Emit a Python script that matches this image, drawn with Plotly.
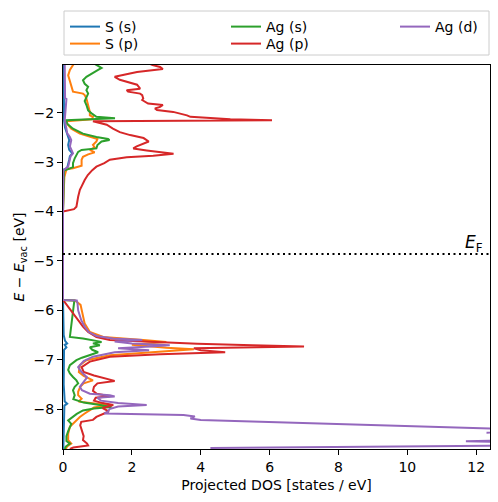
import plotly.graph_objects as go

# ---------------- data ----------------
fermi_energy = -4.86  # eV relative to vacuum

s_s_energy = [-1.00, -2.00, -2.15, -2.30, -2.45, -2.55, -2.65, -2.75, -2.82, -2.88, -2.95, -3.05, -3.12, -3.15, -4.00,
              -5.79, -6.50, -6.62, -6.67, -6.70, -6.75, -6.80, -7.50, -7.85, -7.89, -7.93, -8.81]
s_s_dos = [0.02, 0.02, 0.03, 0.06, 0.12, 0.18, 0.15, 0.18, 0.27, 0.20, 0.18, 0.15, 0.12, 0.02, 0.00,
           0.00, 0.02, 0.06, 0.12, 0.05, 0.10, 0.03, 0.02, 0.05, 0.12, 0.04, 0.01]

s_p_energy = [-1.00, -1.03, -1.07, -1.13, -1.24, -1.37, -1.47, -1.57, -1.61, -1.64, -1.71, -1.84, -1.98, -2.05,
              -2.08, -2.13, -2.17, -2.22, -2.32, -2.42, -2.49, -2.53, -2.58, -2.65, -2.70, -2.75, -2.80, -2.84,
              -2.89, -2.95, -3.07, -3.12, -3.14, -3.30, -3.60, -4.00,
              -5.79, -5.80, -5.89, -6.05, -6.27, -6.44, -6.54, -6.60, -6.64, -6.70, -6.76, -6.79, -6.83, -6.91,
              -7.01, -7.11, -7.25, -7.33, -7.42, -7.48, -7.55, -7.65, -7.72, -7.79, -7.85, -7.92, -7.97, -8.02,
              -8.09, -8.16, -8.26, -8.36, -8.50, -8.63, -8.70, -8.76, -8.81]
s_p_dos = [0.32, 0.29, 0.24, 0.20, 0.15, 0.20, 0.24, 0.29, 0.58, 0.63, 0.68, 0.73, 0.78, 0.78,
           0.87, 0.84, 0.10, 0.12, 0.24, 0.49, 0.78, 1.00, 0.97, 0.87, 0.92, 0.78, 0.92, 0.73,
           0.58, 0.54, 0.54, 0.29, 0.10, 0.04, 0.02, 0.00,
           0.00, 0.35, 0.51, 0.56, 0.63, 0.78, 1.17, 2.33, 3.00, 2.00, 3.00, 3.80, 3.00, 1.36,
           0.68, 0.49, 0.46, 0.60, 0.87, 0.60, 0.50, 0.44, 0.44, 0.54, 0.45, 1.35, 0.90, 0.78,
           0.63, 0.49, 0.34, 0.20, 0.15, 0.15, 0.24, 0.12, 0.08]

ag_s_energy = [-1.00, -1.03, -1.09, -1.13, -1.20, -1.27, -1.34, -1.41, -1.47, -1.54, -1.61, -1.68, -1.76, -1.84,
               -1.95, -2.01, -2.08, -2.11, -2.15, -2.22, -2.32, -2.42, -2.49, -2.53, -2.55, -2.58, -2.65, -2.72,
               -2.75, -2.79, -2.85, -2.92, -3.02, -3.10, -3.14, -3.17, -4.00,
               -5.79, -5.80, -6.54, -6.57, -6.62, -6.64, -6.67, -6.71, -6.75, -6.80, -6.85, -6.90, -6.96, -7.01,
               -7.11, -7.21, -7.28, -7.35, -7.42, -7.48, -7.55, -7.62, -7.72, -7.80, -7.87, -7.92, -7.96, -7.99,
               -8.03, -8.10, -8.18, -8.23, -8.30, -8.36, -8.45, -8.55, -8.65, -8.70, -8.76, -8.81]
ag_s_dos = [0.90, 0.97, 1.12, 1.02, 0.83, 0.68, 0.58, 0.63, 0.73, 0.68, 0.73, 0.68, 0.63, 0.68,
            0.73, 0.83, 0.97, 1.51, 0.10, 0.12, 0.29, 0.58, 0.97, 1.31, 1.35, 1.12, 1.00, 0.97,
            0.54, 0.44, 0.39, 0.34, 0.29, 0.29, 0.15, 0.03, 0.00,
            0.00, 0.33, 0.20, 0.58, 0.90, 1.12, 0.87, 1.07, 0.78, 0.85, 1.02, 0.80, 0.55, 0.39,
            0.20, 0.15, 0.20, 0.29, 0.39, 0.44, 0.34, 0.29, 0.34, 0.30, 0.60, 1.07, 1.41, 0.90,
            0.58, 0.40, 0.24, 0.15, 0.24, 0.20, 0.15, 0.10, 0.10, 0.20, 0.08, 0.05]

ag_p_energy = [-1.00, -1.03, -1.07, -1.11, -1.17, -1.27, -1.33, -1.43, -1.51, -1.54, -1.57, -1.61, -1.64, -1.71,
               -1.74, -1.81, -1.84, -1.88, -1.91, -1.94, -1.98, -2.01, -2.05, -2.08, -2.13, -2.15, -2.17, -2.24,
               -2.32, -2.39, -2.45, -2.51, -2.58, -2.68, -2.72, -2.76, -2.80, -2.83, -2.87, -2.90, -2.95, -3.02,
               -3.09, -3.16, -3.26, -3.36, -3.49, -3.56, -3.70, -3.76, -3.90, -3.95, -4.00,
               -5.79, -6.33, -6.44, -6.54, -6.60, -6.65, -6.68, -6.71, -6.735, -6.77, -6.81, -6.85, -6.89, -6.94,
               -7.04, -7.15, -7.25, -7.32, -7.38, -7.43, -7.48, -7.55, -7.63, -7.69, -7.74, -7.77, -7.83, -7.88,
               -7.92, -7.98, -8.05, -8.09, -8.16, -8.22, -8.26, -8.33, -8.43, -8.55, -8.63, -8.70, -8.74, -8.78,
               -8.81]
ag_p_dos = [2.50, 2.60, 2.82, 2.90, 2.15, 1.50, 1.65, 2.15, 2.24, 1.85, 1.89, 2.24, 2.30, 2.33,
            2.30, 2.47, 2.90, 2.82, 2.67, 2.73, 3.20, 3.40, 3.60, 3.70, 4.86, 6.07, 0.87, 1.27,
            1.45, 1.65, 1.95, 2.34, 2.49, 2.14, 2.04, 2.43, 2.82, 3.21, 2.62, 1.85, 1.36, 1.20,
            0.97, 0.85, 0.72, 0.63, 0.54, 0.49, 0.44, 0.43, 0.39, 0.32, 0.00,
            0.00, 0.58, 0.73, 0.97, 1.36, 2.82, 3.90, 5.50, 7.00, 3.80, 4.00, 4.71, 2.82, 1.36,
            0.78, 0.54, 0.60, 0.90, 1.20, 1.50, 1.00, 0.90, 0.87, 0.98, 1.36, 0.95, 0.90, 1.15,
            1.46, 1.15, 1.33, 1.20, 0.97, 0.87, 0.53, 0.50, 0.55, 0.60, 0.58, 0.70, 0.73, 0.30,
            0.20]

ag_d_energy = [-1.00, -1.50, -1.70, -1.72, -2.00, -2.15, -2.32, -2.41, -2.49, -2.55, -2.68, -2.75, -2.82, -2.88,
               -2.95, -3.09, -3.14, -3.17, -4.00,
               -5.79, -5.80, -5.85, -6.00, -6.20, -6.33, -6.44, -6.52, -6.57, -6.60, -6.63, -6.67, -6.71, -6.74,
               -6.77, -6.81, -6.85, -6.94, -7.03, -7.15, -7.21, -7.28, -7.36, -7.45, -7.55, -7.62, -7.69, -7.72,
               -7.745, -7.77, -7.83, -7.88, -7.92, -7.95, -8.00, -8.06, -8.09, -8.12, -8.15, -8.19, -8.22, -8.43,
               -8.48, -8.52, -8.63, -8.655, -8.67, -8.725, -8.79]
ag_d_dos = [0.05, 0.05, 0.06, 0.10, 0.08, 0.05, 0.10, 0.12, 0.20, 0.24, 0.20, 0.24, 0.29, 0.22,
            0.20, 0.15, 0.05, 0.01, 0.00,
            0.00, 0.40, 0.42, 0.44, 0.53, 0.63, 0.75, 0.97, 1.45, 2.30, 1.50, 2.00, 3.10, 2.40,
            1.60, 2.50, 1.50, 0.87, 0.60, 0.44, 0.49, 0.58, 0.70, 0.60, 0.49, 0.55, 0.78, 1.36,
            1.50, 1.00, 1.10, 1.60, 2.43, 1.60, 1.35, 1.30, 1.20, 3.50, 3.83, 3.70, 4.00, 14.0,
            12.3, 14.0, 13.0, 11.7, 13.0, 16.0, 4.28]

series_names = ["S (s)", "S (p)", "Ag (s)", "Ag (p)", "Ag (d)"]
series_energy = [s_s_energy, s_p_energy, ag_s_energy, ag_p_energy, ag_d_energy]
series_dos = [s_s_dos, s_p_dos, ag_s_dos, ag_p_dos, ag_d_dos]
series_colors = ["#1f77b4", "#ff7f0e", "#2ca02c", "#d62728", "#9467bd"]

x_ticks = [0, 2, 4, 6, 8, 10, 12]
y_ticks = [-8, -7, -6, -5, -4, -3, -2]
x_range = [0, 12.4]
y_range = [-8.81, -1.03]

# ---------------- figure ----------------
W, H = 498, 502
ML, MR, MT, MB = 63, 8, 65, 53
PW, PH = W - ML - MR, H - MT - MB


def px_x(p):
    return (p - ML) / PW


def px_y(p):
    return (H - MB - p) / PH


# one legend per entry so the matplotlib-like column layout can be reproduced
legend_ids = ["legend", "legend2", "legend3", "legend4", "legend5"]
legend_px = [(65, 11), (65, 28), (226, 11), (226, 28), (395, 11)]

FONT = "DejaVu Sans"
fig = go.Figure()
for name, e, d, c, lg in zip(series_names, series_energy, series_dos, series_colors, legend_ids):
    fig.add_trace(go.Scatter(x=d, y=e, mode="lines", name=name, legend=lg, showlegend=True,
                             line=dict(color=c, width=2)))

axis_common = dict(showline=True, linecolor="black", linewidth=1, mirror=True,
                   ticks="outside", ticklen=5, tickwidth=1, tickcolor="black",
                   showgrid=False, zeroline=False, automargin=False,
                   tickfont=dict(family=FONT, size=14, color="black"))

legend_common = dict(orientation="v", xanchor="left", yanchor="top",
                     bgcolor="rgba(0,0,0,0)", borderwidth=0,
                     font=dict(family=FONT, size=14, color="black"))

legend_layouts = {lid: dict(x=px_x(lx), y=px_y(ly), **legend_common)
                  for lid, (lx, ly) in zip(legend_ids, legend_px)}

fig.update_layout(
    width=W, height=H,
    showlegend=True,
    margin=dict(l=ML, r=MR, t=MT, b=MB, pad=0, autoexpand=False),
    paper_bgcolor="white", plot_bgcolor="white",
    font=dict(family=FONT, size=14, color="black"),
    xaxis=dict(range=x_range, tickvals=x_ticks, **axis_common,
               title=dict(text="Projected DOS [states / eV]", standoff=6,
                          font=dict(family=FONT, size=14, color="black"))),
    yaxis=dict(range=y_range, tickvals=y_ticks, **axis_common,
               title=dict(text="<i>E</i> − <i>E</i><sub>vac</sub> [eV]", standoff=5,
                          font=dict(family=FONT, size=14, color="black"))),
    shapes=[
        dict(type="line", xref="paper", yref="y", x0=0, x1=1, y0=fermi_energy, y1=fermi_energy,
             line=dict(color="black", width=2, dash="2px,3.5px")),
        dict(type="rect", xref="paper", yref="paper", x0=px_x(64), x1=px_x(489),
             y0=px_y(55), y1=px_y(11), line=dict(color="#cccccc", width=1), layer="below"),
    ],
    annotations=[
        dict(x=12.25, y=fermi_energy, xref="x", yref="y", xanchor="right", yanchor="bottom",
             yshift=-3, text="<i>E</i><sub>F</sub>", showarrow=False,
             font=dict(family=FONT, size=17, color="black")),
    ],
    **legend_layouts,
)

fig.write_html("out.html", config={"displayModeBar": False},
               post_script="document.body.style.margin='0';")
